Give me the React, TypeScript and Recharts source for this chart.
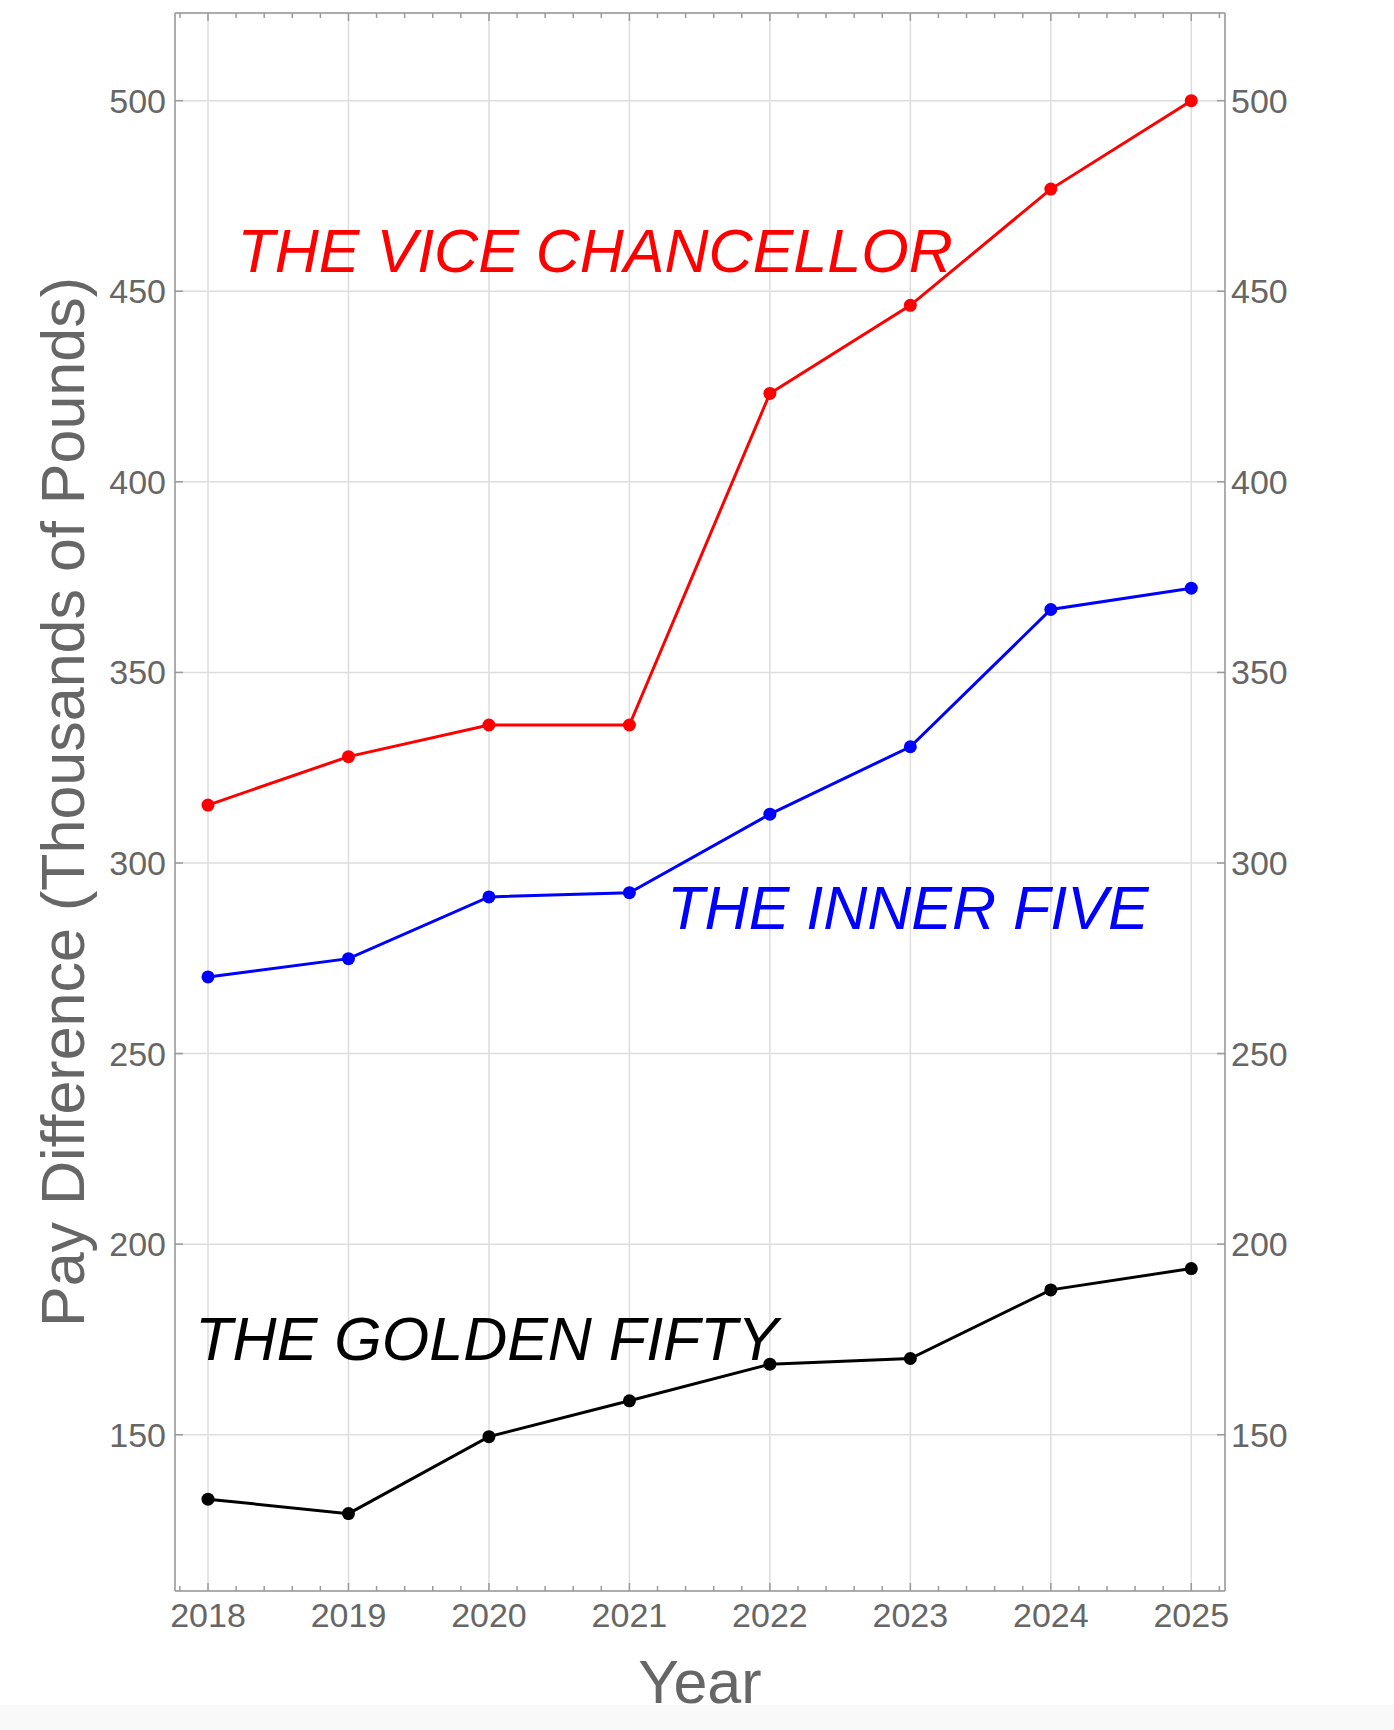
import { LineChart, Line, XAxis, YAxis, CartesianGrid, ReferenceDot } from 'recharts'

const years = [2018, 2019, 2020, 2021, 2022, 2023, 2024, 2025]
const viceChancellor = [315.2, 327.9, 336.2, 336.2, 423.2, 446.3, 476.8, 500]
const innerFive = [270.1, 274.9, 291.1, 292.2, 312.8, 330.5, 366.5, 372.1]
const goldenFifty = [133.1, 129.3, 149.5, 158.9, 168.5, 170, 188, 193.6]

const yTicks = [150, 200, 250, 300, 350, 400, 450, 500]
const minorYearTicks = [
  2017.8, 2018.2, 2018.4, 2018.6, 2018.8, 2019.2, 2019.4, 2019.6, 2019.8,
  2020.2, 2020.4, 2020.6, 2020.8, 2021.2, 2021.4, 2021.6, 2021.8,
  2022.2, 2022.4, 2022.6, 2022.8, 2023.2, 2023.4, 2023.6, 2023.8,
  2024.2, 2024.4, 2024.6, 2024.8, 2025.2,
]

const seriesLabels = [
  { text: 'THE VICE CHANCELLOR', year: 2018.21, value: 455.0, color: '#ff0000' },
  { text: 'THE INNER FIVE', year: 2021.27, value: 282.6, color: '#0000ff' },
  { text: 'THE GOLDEN FIFTY', year: 2017.91, value: 169.5, color: '#000000' },
]

const data = years.map((year, i) => ({
  year,
  vc: viceChancellor[i],
  inner: innerFive[i],
  golden: goldenFifty[i],
}))

// majors and minors together, so one axis draws the whole frame side
const frameYearTicks = [...years, ...minorYearTicks].sort((a, b) => a - b)

const font = '"Liberation Sans", Arial, Helvetica, sans-serif'
const axisGray = '#9a9a9a'
const textGray = '#666666'
const tickStyle = { fill: textGray, fontSize: 34, fontFamily: font }
const xDomain = [2017.765, 2025.24]
const yDomain = [109, 523]

function BottomTick(props: any) {
  const { x, y, payload } = props
  const major = Number.isInteger(payload.value)
  return (
    <g>
      <line x1={x} x2={x} y1={y} y2={y - (major ? 8 : 5)} stroke={axisGray} strokeWidth={1.5} />
      {major && (
        <text x={x} y={y + 12} dy="0.71em" textAnchor="middle" fill={textGray} fontSize={34} fontFamily={font}>
          {payload.value}
        </text>
      )}
    </g>
  )
}

function TopTick(props: any) {
  const { x, y, payload } = props
  const major = Number.isInteger(payload.value)
  return <line x1={x} x2={x} y1={y} y2={y + (major ? 8 : 5)} stroke={axisGray} strokeWidth={1.5} />
}

function YTitle(props: any) {
  const vb = props.viewBox
  const x = vb.x + vb.width - 91
  const y = vb.y + vb.height / 2
  return (
    <text
      x={x}
      y={y}
      transform={`rotate(-90, ${x}, ${y})`}
      textAnchor="middle"
      fill={textGray}
      fontSize={61}
      fontFamily={font}
    >
      Pay Difference (Thousands of Pounds)
    </text>
  )
}

function XTitle(props: any) {
  const vb = props.viewBox
  return (
    <text x={vb.x + vb.width / 2} y={vb.y + 112} textAnchor="middle" fill={textGray} fontSize={61} fontFamily={font}>
      Year
    </text>
  )
}

export default function App() {
  return (
    <div style={{ position: 'absolute', left: 0, top: 0, width: 1394, height: 1730, background: '#fff' }}>
      <LineChart width={1394} height={1730} data={data} margin={{ top: 12, right: 168, bottom: 138, left: 174 }}>
        <XAxis
          xAxisId="grid"
          hide
          height={0}
          dataKey="year"
          type="number"
          domain={xDomain}
          allowDataOverflow
          ticks={years}
          interval={0}
        />
        <XAxis
          xAxisId="x"
          dataKey="year"
          type="number"
          domain={xDomain}
          allowDataOverflow
          ticks={frameYearTicks}
          interval={0}
          height={1}
          tick={BottomTick}
          tickLine={false}
          tickSize={0}
          tickMargin={0}
          axisLine={{ stroke: axisGray, strokeWidth: 1.5 }}
          label={XTitle}
        />
        <XAxis
          xAxisId="xtop"
          orientation="top"
          dataKey="year"
          type="number"
          domain={xDomain}
          allowDataOverflow
          ticks={frameYearTicks}
          interval={0}
          height={1}
          tick={TopTick}
          tickLine={false}
          tickSize={0}
          tickMargin={0}
          axisLine={{ stroke: axisGray, strokeWidth: 1.5 }}
        />
        <YAxis
          yAxisId="y"
          type="number"
          domain={yDomain}
          allowDataOverflow
          ticks={yTicks}
          interval={0}
          width={1}
          tick={tickStyle}
          tickSize={-8}
          tickMargin={17}
          tickLine={{ stroke: axisGray, strokeWidth: 1.5 }}
          axisLine={{ stroke: axisGray, strokeWidth: 1.5 }}
          label={YTitle}
        />
        <YAxis
          yAxisId="yr"
          orientation="right"
          type="number"
          domain={yDomain}
          allowDataOverflow
          ticks={yTicks}
          interval={0}
          width={1}
          tick={tickStyle}
          tickSize={-8}
          tickMargin={14}
          tickLine={{ stroke: axisGray, strokeWidth: 1.5 }}
          axisLine={{ stroke: axisGray, strokeWidth: 1.5 }}
        />
        <CartesianGrid xAxisId="grid" yAxisId="y" stroke="#dddddd" strokeWidth={1.5} />
        <Line
          xAxisId="x"
          yAxisId="y"
          dataKey="vc"
          stroke="#ff0000"
          strokeWidth={3}
          dot={{ r: 6.5, fill: '#ff0000', stroke: '#ff0000', strokeWidth: 0 }}
          isAnimationActive={false}
        />
        <Line
          xAxisId="x"
          yAxisId="y"
          dataKey="inner"
          stroke="#0000ff"
          strokeWidth={3}
          dot={{ r: 6.5, fill: '#0000ff', stroke: '#0000ff', strokeWidth: 0 }}
          isAnimationActive={false}
        />
        <Line
          xAxisId="x"
          yAxisId="y"
          dataKey="golden"
          stroke="#000000"
          strokeWidth={3}
          dot={{ r: 6.5, fill: '#000000', stroke: '#000000', strokeWidth: 0 }}
          isAnimationActive={false}
        />
        {seriesLabels.map((s) => (
          <ReferenceDot
            key={s.text}
            xAxisId="x"
            yAxisId="y"
            x={s.year}
            y={s.value}
            r={0}
            fill="none"
            stroke="none"
            label={(props: any) => (
              <text
                x={props.viewBox.x}
                y={props.viewBox.y}
                fill={s.color}
                fontSize={61}
                fontStyle="italic"
                fontFamily={font}
              >
                {s.text}
              </text>
            )}
          />
        ))}
      </LineChart>
      <div style={{ position: 'absolute', left: 0, top: 1705, width: 1394, height: 25, background: '#f9f9f9' }} />
    </div>
  )
}
